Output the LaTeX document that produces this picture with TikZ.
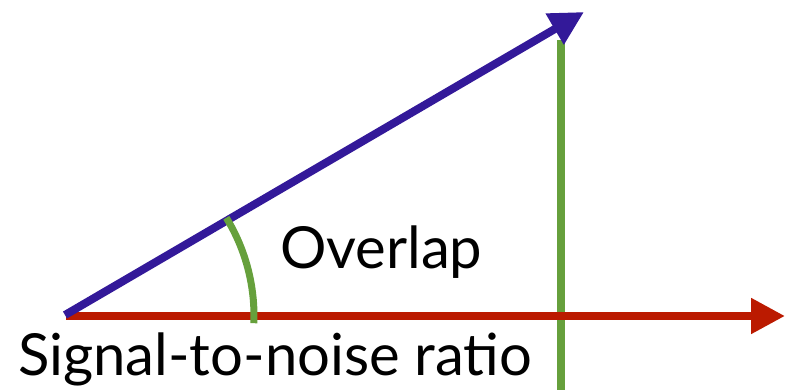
\documentclass[tikz,border=0pt]{standalone}
\usepackage{fontspec}
\setmainfont{Lato}
\usetikzlibrary{arrows.meta}
\definecolor{vecblue}{RGB}{51,25,153}
\definecolor{axisred}{RGB}{187,26,0}
\definecolor{projgreen}{RGB}{102,160,60}
\begin{document}
\begin{tikzpicture}[x=1pt,y=1pt,
  vec/.style={line width=8pt,-{Triangle[length=34pt,width=34pt]}},
  proj/.style={line width=8pt,projgreen},
  lbl/.style={inner sep=0pt,anchor=base west,text=black}]
\useasboundingbox (0,0) rectangle (785,389);
\coordinate (O) at (65,74);
\coordinate (Ored) at (66,73);
\coordinate (Xend) at (785,73);
\coordinate (Vend) at (584,377);
\coordinate (Gtop) at (561,349);
\coordinate (Gbot) at (561,-2);
\draw[proj] (Gtop) -- (Gbot);
\draw[vec,axisred] (Ored) -- (Xend);
\draw[vec,vecblue] (O) -- (Vend);
\draw[line width=7pt,projgreen] (Ored) ++(-2.2:188) arc[start angle=-2.2,end angle=31.5,radius=188pt];
\node[lbl,font=\fontsize{58}{64}\selectfont] (ov) at (280,121) {Overlap};
\node[lbl,font=\fontsize{58}{64}\selectfont] (snr) at (18,14) {Signal-to-noise ratio};
\end{tikzpicture}
\end{document}
